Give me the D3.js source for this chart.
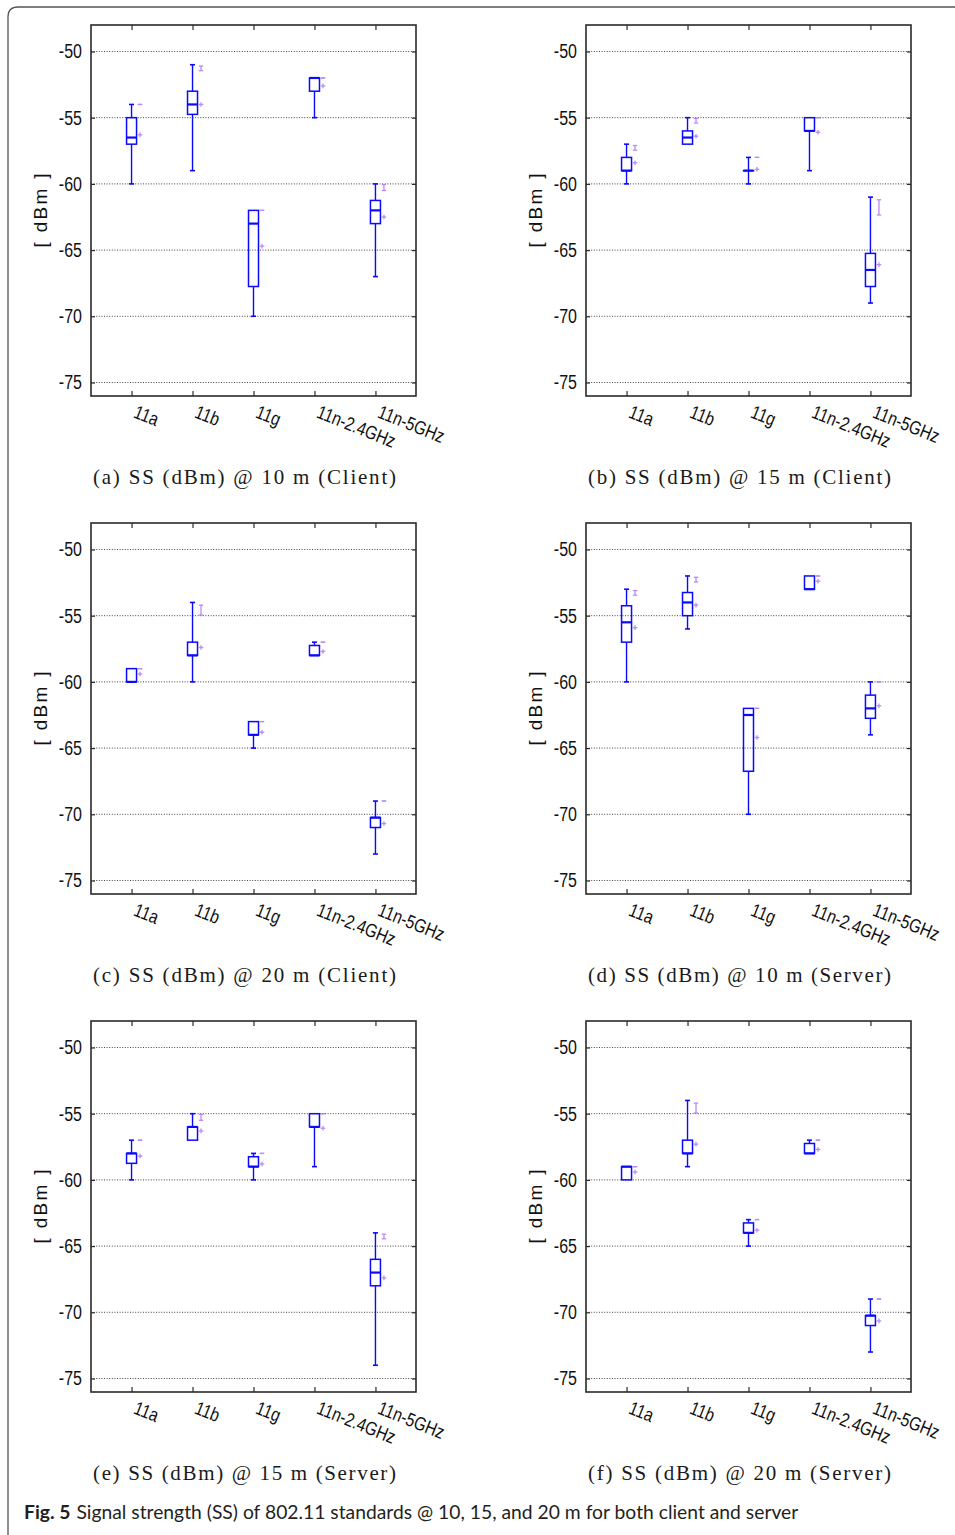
<!DOCTYPE html>
<html><head><meta charset="utf-8">
<script src="https://cdn.jsdelivr.net/npm/d3@7"></script>
<style>html,body{margin:0;padding:0;background:#fff;}svg{display:block;}</style>
</head><body>
<svg id="chart" width="955" height="1535"></svg>
<script>
const categories = ["11a", "11b", "11g", "11n-2.4GHz", "11n-5GHz"];
const panelTitles = [
  "(a) SS (dBm) @ 10 m (Client)", "(b) SS (dBm) @ 15 m (Client)",
  "(c) SS (dBm) @ 20 m (Client)", "(d) SS (dBm) @ 10 m (Server)",
  "(e) SS (dBm) @ 15 m (Server)", "(f) SS (dBm) @ 20 m (Server)"
];
const yTicks = [-50, -55, -60, -65, -70, -75];
const yLabel = "[ dBm ]";
const figCaptionBold = "Fig. 5";
const figCaption = "Signal strength (SS) of 802.11 standards @ 10, 15, and 20 m for both client and server";

// one row per panel (a..f), one column per category
const whiskerHigh = [
  [-54, -51, -62, -52, -60],
  [-57, -55, -58, -55, -61],
  [-59, -54, -63, -57, -69],
  [-53, -52, -62, -52, -60],
  [-57, -55, -58, -55, -64],
  [-59, -54, -63, -57, -69]
];
const boxHigh = [
  [-55, -53, -62, -52, -61.25],
  [-58, -56, -59, -55, -65.25],
  [-59, -57, -63, -57.25, -70.25],
  [-54.25, -53.25, -62, -52, -61],
  [-58, -56, -58.25, -55, -66],
  [-59, -57, -63.25, -57.25, -70.25]
];
const medians = [
  [-56.5, -54, -63, -52, -62],
  [-59, -56.5, -59, -56, -66.5],
  [-60, -58, -64, -58, -70.25],
  [-55.5, -54, -62.5, -53, -62],
  [-58, -56, -59, -56, -67],
  [-59, -58, -64, -58, -70.25]
];
const boxLow = [
  [-57, -54.75, -67.75, -53, -63],
  [-59, -57, -59, -56, -67.75],
  [-60, -58, -64, -58, -71],
  [-57, -55, -66.75, -53, -62.75],
  [-58.75, -57, -59, -56, -68],
  [-60, -58, -64, -58, -71]
];
const whiskerLow = [
  [-60, -59, -70, -55, -67],
  [-60, -57, -60, -59, -69],
  [-60, -60, -65, -58, -73],
  [-60, -56, -70, -53, -64],
  [-60, -57, -60, -59, -74],
  [-60, -59, -65, -58, -73]
];
const ciHigh = [
  [-54, -51.1, -62, -52, -60.05],
  [-57.1, -55.05, -58, -55, -61.2],
  [-59, -54.2, -63, -57, -69],
  [-53.1, -52.1, -62, -52, -60],
  [-57, -55.05, -58, -55, -64.1],
  [-59, -54.2, -63, -57, -69]
];
const ciLow = [
  [-54, -51.45, -62, -52, -60.5],
  [-57.45, -55.4, -58, -55, -62.35],
  [-59, -54.95, -63, -57, -69],
  [-53.45, -52.45, -62, -52, -60],
  [-57, -55.5, -58, -55, -64.45],
  [-59, -54.95, -63, -57, -69]
];
const means = [
  [-56.3, -54, -64.7, -52.6, -62.5],
  [-58.4, -56.4, -58.9, -56.1, -66.1],
  [-59.4, -57.4, -63.8, -57.7, -70.7],
  [-55.9, -54.2, -64.2, -52.4, -61.8],
  [-58.2, -56.3, -58.8, -56.1, -67.4],
  [-59.4, -57.3, -63.8, -57.7, -70.65]
];

const svg = d3.select("#chart");
const colX = [91, 586], rowY = [25, 523, 1021];
const PW = 325, PH = 371;
const blue = "#0a0aff", purple = "#b37ff2", frameCol = "#2a2a2a";

// outer rounded border
svg.append("path")
  .attr("d", "M8,1540 L8,17 Q8,7 18,7 L960,7")
  .attr("fill", "none").attr("stroke", "#555").attr("stroke-width", 1.3);

const x = d3.scalePoint().domain(categories).range([0, PW]).padding(0.665);
const y = d3.scaleLinear().domain([-76.02, -48]).range([PH, 0]);

panelTitles.forEach((title, p) => {
  const ox = colX[p % 2], oy = rowY[Math.floor(p / 2)];
  const g = svg.append("g").attr("transform", `translate(${ox},${oy})`);

  // grid
  g.selectAll("line.grid").data(yTicks).join("line")
    .attr("x1", 0).attr("x2", PW)
    .attr("y1", d => y(d)).attr("y2", d => y(d))
    .attr("stroke", "#444").attr("stroke-width", 1).attr("stroke-dasharray", "1,1.6");

  // y axis left and right (inward ticks)
  const yl = g.append("g").call(d3.axisRight(y).tickValues(yTicks).tickSize(4).tickFormat(""));
  const yr = g.append("g").attr("transform", `translate(${PW},0)`)
    .call(d3.axisLeft(y).tickValues(yTicks).tickSize(4).tickFormat(""));
  const xb = g.append("g").attr("transform", `translate(0,${PH})`)
    .call(d3.axisTop(x).tickSize(5).tickFormat(""));
  const xt = g.append("g").call(d3.axisBottom(x).tickSize(5).tickFormat(""));
  [yl, yr, xb, xt].forEach(a => {
    a.select(".domain").remove();
    a.selectAll(".tick line").attr("stroke", frameCol).attr("stroke-width", 1.2);
  });

  // frame
  g.append("rect").attr("x", 0).attr("y", 0).attr("width", PW).attr("height", PH)
    .attr("fill", "none").attr("stroke", frameCol).attr("stroke-width", 1.6);

  // y tick labels
  g.selectAll("text.ytl").data(yTicks).join("text")
    .attr("transform", d => `translate(-9,${y(d) + 7}) scale(0.8,1)`)
    .attr("text-anchor", "end")
    .attr("font-family", "Liberation Sans, Arial, sans-serif").attr("font-size", 20)
    .attr("fill", "#111").text(d => d);

  // y label
  g.append("text")
    .attr("transform", `translate(-44,${PH / 2}) rotate(-90)`)
    .attr("text-anchor", "middle")
    .attr("font-family", "Liberation Sans, Arial, sans-serif").attr("font-size", 19)
    .attr("textLength", 74).attr("lengthAdjust", "spacing")
    .attr("fill", "#111").text(yLabel);

  // x tick labels
  g.selectAll("text.xtl").data(categories).join("text")
    .attr("transform", d => `translate(${x(d) + 1},${PH + 21}) rotate(22) scale(0.82,1)`)
    .attr("text-anchor", "start")
    .attr("font-family", "Liberation Sans, Arial, sans-serif").attr("font-size", 19)
    .attr("fill", "#111").text(d => d);

  // boxes
  const bw = 10, cw = 5, off = 8.5;
  categories.forEach((c, i) => {
    const cx = x(c);
    const bg = g.append("g");
    if (whiskerHigh[p][i] > boxHigh[p][i]) {
      bg.append("line").attr("x1", cx).attr("x2", cx)
        .attr("y1", y(whiskerHigh[p][i])).attr("y2", y(boxHigh[p][i]))
        .attr("stroke", blue).attr("stroke-width", 1.4);
      bg.append("line").attr("x1", cx - cw / 2).attr("x2", cx + cw / 2)
        .attr("y1", y(whiskerHigh[p][i])).attr("y2", y(whiskerHigh[p][i]))
        .attr("stroke", blue).attr("stroke-width", 1.6);
    }
    if (whiskerLow[p][i] < boxLow[p][i]) {
      bg.append("line").attr("x1", cx).attr("x2", cx)
        .attr("y1", y(boxLow[p][i])).attr("y2", y(whiskerLow[p][i]))
        .attr("stroke", blue).attr("stroke-width", 1.4);
      bg.append("line").attr("x1", cx - cw / 2).attr("x2", cx + cw / 2)
        .attr("y1", y(whiskerLow[p][i])).attr("y2", y(whiskerLow[p][i]))
        .attr("stroke", blue).attr("stroke-width", 1.6);
    }
    bg.append("rect").attr("x", cx - bw / 2).attr("width", bw)
      .attr("y", y(boxHigh[p][i])).attr("height", Math.max(0.01, y(boxLow[p][i]) - y(boxHigh[p][i])))
      .attr("fill", "none").attr("stroke", blue).attr("stroke-width", 1.5);
    bg.append("line").attr("x1", cx - bw / 2).attr("x2", cx + bw / 2)
      .attr("y1", y(medians[p][i])).attr("y2", y(medians[p][i]))
      .attr("stroke", blue).attr("stroke-width", 2.2);

    const px = cx + off;
    const yh = y(ciHigh[p][i]), ylo = y(ciLow[p][i]);
    const mg = g.append("g").attr("stroke", purple).attr("stroke-width", 1.3).attr("opacity", 0.9);
    if (ylo - yh > 0.5) {
      mg.append("line").attr("x1", px).attr("x2", px).attr("y1", yh).attr("y2", ylo);
    }
    mg.append("line").attr("x1", px - 2.2).attr("x2", px + 2.2).attr("y1", yh).attr("y2", yh);
    mg.append("line").attr("x1", px - 2.2).attr("x2", px + 2.2).attr("y1", ylo).attr("y2", ylo);
    const ym = y(means[p][i]);
    mg.append("line").attr("x1", px - 2.3).attr("x2", px + 2.3).attr("y1", ym).attr("y2", ym);
    mg.append("line").attr("x1", px).attr("x2", px).attr("y1", ym - 2.3).attr("y2", ym + 2.3);
  });

  // panel caption
  svg.append("text")
    .attr("x", ox + PW / 2 - 9).attr("y", oy + PH + 88)
    .attr("text-anchor", "middle")
    .attr("font-family", "Liberation Serif, Times New Roman, serif").attr("font-size", 21)
    .attr("textLength", 303).attr("lengthAdjust", "spacing")
    .attr("fill", "#1a1a1a").text(title);
});

// figure caption
const cap = svg.append("text").attr("x", 24).attr("y", 1519)
  .attr("font-family", "Lato, Open Sans, sans-serif").attr("font-size", 19.3).attr("fill", "#231f20");
cap.append("tspan").attr("font-weight", "bold").text(figCaptionBold);
cap.append("tspan").attr("dx", 6).text(figCaption);
</script>
</body></html>
